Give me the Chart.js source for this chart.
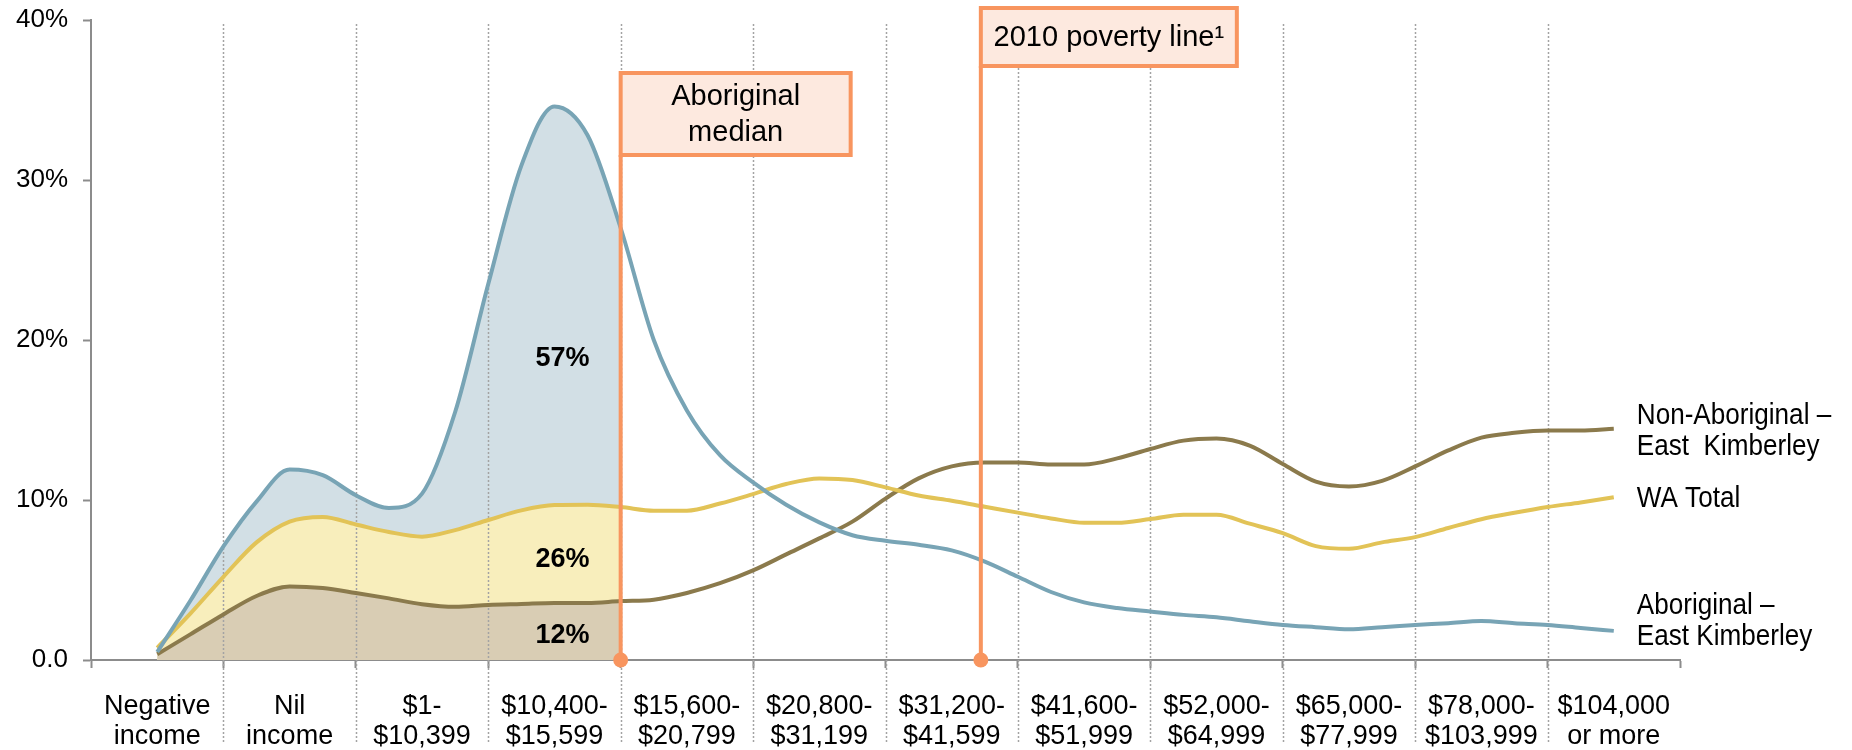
<!DOCTYPE html>
<html>
<head>
<meta charset="utf-8">
<script src="https://cdn.jsdelivr.net/npm/chart.js@4.4.1/dist/chart.umd.min.js"></script>
<style>
  html, body { margin: 0; padding: 0; background: #fff; }
  canvas { display: block; }
</style>
</head>
<body>
<canvas id="chart" width="1852" height="750"></canvas>
<script>
// Income bands on the bottom axis
const incomeBands = [
  ['Negative', 'income'], ['Nil', 'income'], ['$1-', '$10,399'], ['$10,400-', '$15,599'],
  ['$15,600-', '$20,799'], ['$20,800-', '$31,199'], ['$31,200-', '$41,599'], ['$41,600-', '$51,999'],
  ['$52,000-', '$64,999'], ['$65,000-', '$77,999'], ['$78,000-', '$103,999'], ['$104,000', 'or more']
];

// Position along the axis counted in bands (0.5 = middle of "Negative income")
const bandPos = [
  0.5, 0.75, 1, 1.25, 1.5, 1.75, 2, 2.25, 2.5, 2.75, 3, 3.25, 3.5, 3.75, 4,
  4.25, 4.5, 4.75, 5, 5.25, 5.5, 5.75, 6, 6.25, 6.5, 6.75, 7, 7.25, 7.5, 7.75,
  8, 8.25, 8.5, 8.75, 9, 9.25, 9.5, 9.75, 10, 10.25, 10.5, 10.75, 11, 11.25, 11.5
];

// Share of people (%)
const aboriginalEK = [
  0.5, 3.7, 7.1, 9.9, 11.9, 11.55, 10.3, 9.5, 10.4, 15.5, 23.5, 30.9, 34.6, 32.8, 27.0,
  20.0, 15.6, 12.8, 11.1, 9.7, 8.6, 7.8, 7.45, 7.2, 6.85, 6.15, 5.2, 4.25, 3.6, 3.25,
  3.03, 2.82, 2.67, 2.42, 2.19, 2.05, 1.92, 2.05, 2.19, 2.3, 2.44, 2.3, 2.19, 2.0, 1.82
];
const waTotal = [
  0.76, 2.9, 5.2, 7.35, 8.65, 8.94, 8.47, 8.0, 7.71, 8.12, 8.75, 9.35, 9.68, 9.7, 9.56,
  9.33, 9.33, 9.78, 10.37, 11.0, 11.35, 11.25, 10.79, 10.28, 9.95, 9.58, 9.21, 8.85, 8.58, 8.58,
  8.81, 9.08, 9.08, 8.52, 7.93, 7.12, 6.95, 7.35, 7.68, 8.25, 8.8, 9.2, 9.56, 9.85, 10.17
];
const nonAboriginalEK = [
  0.36, 1.6, 2.85, 4.0, 4.6, 4.5, 4.19, 3.85, 3.49, 3.33, 3.44, 3.5, 3.56, 3.56, 3.68,
  3.77, 4.19, 4.8, 5.6, 6.6, 7.6, 8.65, 10.09, 11.35, 12.1, 12.34, 12.34, 12.22, 12.22, 12.6,
  13.19, 13.71, 13.84, 13.4, 12.25, 11.15, 10.85, 11.2, 12.1, 13.1, 13.9, 14.2, 14.34, 14.34, 14.45
];

const yTicks = [0, 10, 20, 30, 40];

const medianPos = 4;       // Aboriginal median (band boundary)
const povertyPos = 6.72;   // 2010 poverty line

// Shares of each group below the Aboriginal median
const shareLabels = ['57%', '26%', '12%'];
const shareValues = [18.85, 6.29, 1.53];
const sharePos = 3.56;

// End-of-line names
const seriesNames = [['Non-Aboriginal –', 'East  Kimberley'], ['WA Total'], ['Aboriginal –', 'East Kimberley']];
const seriesNameValues = [14.25, 10.02, 2.38];

const FONT = '"Liberation Sans", Arial, sans-serif';
const GREY = '#8c8c8c';
const ORANGE = '#f8955f';

const toPoints = (vals) => bandPos.map((x, i) => ({ x: x, y: vals[i] }));
const upToMedian = (vals) => toPoints(vals).filter((p) => p.x <= medianPos);

Chart.defaults.font.family = FONT;

// text a little narrower than the font, like the source slide
function narrowText(ctx, text, x, y, sx) {
  ctx.save();
  ctx.translate(x, y);
  ctx.scale(sx, 1);
  ctx.fillText(text, 0, 0);
  ctx.restore();
}

const overlay = {
  id: 'overlay',
  afterDatasetDraw(chart, args) {
    // dotted band dividers, above the fills but under the lines
    if (args.index !== 2) return;
    const ctx = chart.ctx;
    const xs = chart.scales.x;
    ctx.save();
    ctx.strokeStyle = '#a3a3a3';
    ctx.lineWidth = 1.5;
    ctx.setLineDash([2, 2]);
    for (let i = 1; i < incomeBands.length; i++) {
      const px = Math.round(xs.getPixelForValue(i)) + 0.5;
      ctx.beginPath();
      ctx.moveTo(px, 24);
      ctx.lineTo(px, 743);
      ctx.stroke();
    }
    ctx.restore();
  },
  afterDatasetsDraw(chart) {
    const ctx = chart.ctx;
    const xs = chart.scales.x;
    const ys = chart.scales.y;
    const bottom = chart.chartArea.bottom;
    ctx.save();

    // shares under the curves
    ctx.fillStyle = '#000';
    ctx.font = 'bold 27px ' + FONT;
    ctx.textAlign = 'center';
    ctx.textBaseline = 'middle';
    shareLabels.forEach((t, i) => {
      ctx.fillText(t, xs.getPixelForValue(sharePos), ys.getPixelForValue(shareValues[i]));
    });

    // series names at the right end
    ctx.font = '30px ' + FONT;
    ctx.textAlign = 'left';
    const nameX = xs.getPixelForValue(bandPos[bandPos.length - 1]) + 23;
    seriesNames.forEach((lines, i) => {
      const cy = ys.getPixelForValue(seriesNameValues[i]) - 1;
      lines.forEach((l, j) => {
        narrowText(ctx, l, nameX, cy + (j - (lines.length - 1) / 2) * 31, 0.87);
      });
    });

    // marker lines with their flags
    const flag = (pos, top, w, h, lines) => {
      const px = xs.getPixelForValue(pos);
      ctx.strokeStyle = ORANGE;
      ctx.lineWidth = 4;
      ctx.beginPath();
      ctx.moveTo(px, top + h);
      ctx.lineTo(px, bottom);
      ctx.stroke();
      ctx.fillStyle = ORANGE;
      ctx.beginPath();
      ctx.arc(px, bottom, 7.5, 0, Math.PI * 2);
      ctx.fill();
      ctx.fillStyle = '#fde9df';
      ctx.fillRect(px, top, w, h);
      ctx.strokeRect(px, top, w, h);
      ctx.fillStyle = '#000';
      ctx.font = '29px ' + FONT;
      ctx.textAlign = 'center';
      ctx.textBaseline = 'middle';
      lines.forEach((l, j) => {
        ctx.fillText(l, px + w / 2, top + h / 2 + 1 + (j - (lines.length - 1) / 2) * 36);
      });
    };
    flag(medianPos, 73, 230, 82, ['Aboriginal', 'median']);
    flag(povertyPos, 8, 256, 58, ['2010 poverty line¹']);

    ctx.restore();
  }
};

new Chart(document.getElementById('chart'), {
  type: 'line',
  data: {
    datasets: [
      { data: upToMedian(aboriginalEK), backgroundColor: '#d2dfe5', fill: 'origin', borderWidth: 0, borderColor: 'rgba(0,0,0,0)', pointRadius: 0, order: 6 },
      { data: upToMedian(waTotal), backgroundColor: '#f8eebc', fill: 'origin', borderWidth: 0, borderColor: 'rgba(0,0,0,0)', pointRadius: 0, order: 5 },
      { data: upToMedian(nonAboriginalEK), backgroundColor: '#d9cdb4', fill: 'origin', borderWidth: 0, borderColor: 'rgba(0,0,0,0)', pointRadius: 0, order: 4 },
      { label: 'Non-Aboriginal – East Kimberley', data: toPoints(nonAboriginalEK), borderColor: '#8b7a4c', borderWidth: 4, pointRadius: 0, fill: false, order: 3 },
      { label: 'WA Total', data: toPoints(waTotal), borderColor: '#e2c357', borderWidth: 4, pointRadius: 0, fill: false, order: 2 },
      { label: 'Aboriginal – East Kimberley', data: toPoints(aboriginalEK), borderColor: '#78a4b5', borderWidth: 4, pointRadius: 0, fill: false, order: 1 }
    ]
  },
  options: {
    responsive: false,
    animation: false,
    layout: { padding: { top: 20, right: 172, bottom: 0, left: 0 } },
    elements: { line: { cubicInterpolationMode: 'monotone' } },
    plugins: { legend: { display: false }, tooltip: { enabled: false } },
    scales: {
      x: {
        type: 'linear',
        min: 0,
        max: incomeBands.length,
        afterBuildTicks: (axis) => {
          axis.ticks = Array.from({ length: incomeBands.length * 2 + 1 }, (_, k) => ({ value: k / 2 }));
        },
        afterFit: (axis) => {
          axis.height = 90;
          axis.paddingLeft = 0;
          axis.paddingRight = 0;
        },
        ticks: {
          autoSkip: false,
          maxRotation: 0,
          minRotation: 0,
          padding: 23,
          color: '#000',
          font: { size: 27, lineHeight: 1.12 },
          callback: (v) => (Number.isInteger(v) ? '' : incomeBands[Math.floor(v)])
        },
        grid: {
          drawOnChartArea: false,
          tickLength: 8,
          tickWidth: 2,
          tickColor: (c) => (c.tick && Number.isInteger(c.tick.value) ? GREY : 'rgba(0,0,0,0)')
        },
        border: { color: GREY, width: 2 }
      },
      y: {
        min: 0,
        max: 40,
        afterBuildTicks: (axis) => { axis.ticks = yTicks.map((v) => ({ value: v })); },
        afterFit: (axis) => {
          axis.width = 91;
          axis.paddingTop = 0;
          axis.paddingBottom = 0;
        },
        ticks: {
          padding: 15,
          color: '#000',
          font: { size: 26 },
          callback: (v) => (v === 0 ? '0.0' : v + '%')
        },
        grid: { drawOnChartArea: false, tickLength: 8, tickWidth: 2, tickColor: GREY },
        border: { color: GREY, width: 2 }
      }
    }
  },
  plugins: [overlay]
});
</script>
</body>
</html>
